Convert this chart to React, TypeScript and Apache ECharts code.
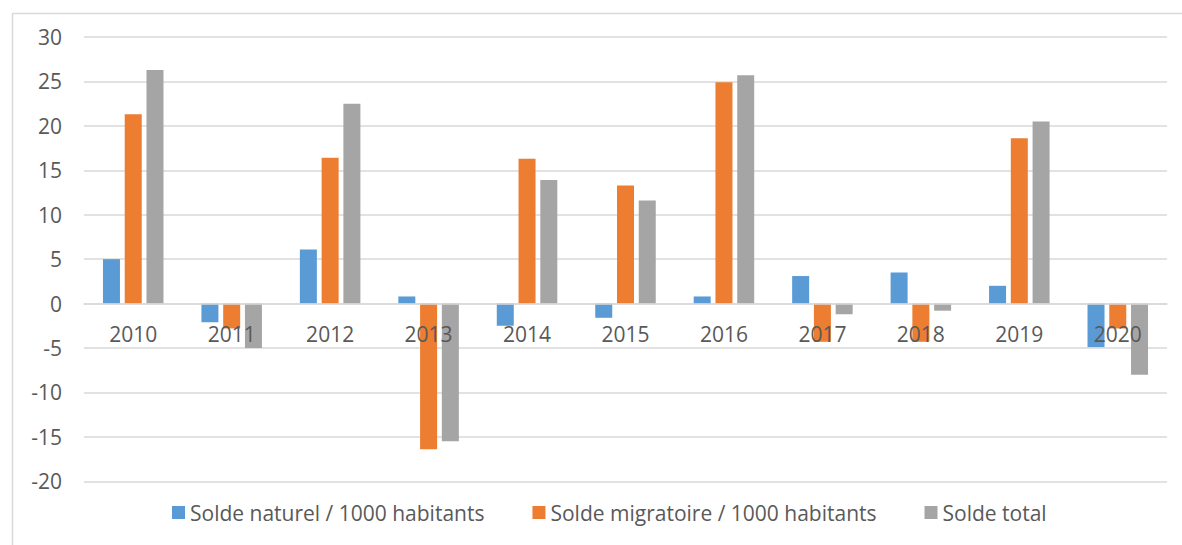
import React, { useEffect, useRef } from "react";
import * as echarts from "echarts";

const years = ["2010", "2011", "2012", "2013", "2014", "2015", "2016", "2017", "2018", "2019", "2020"];
const soldeNaturel = [5.0, -2.1, 6.1, 0.8, -2.5, -1.6, 0.8, 3.1, 3.5, 2.0, -4.9];
const soldeMigratoire = [21.3, -2.8, 16.4, -16.4, 16.3, 13.3, 24.9, -4.3, -4.3, 18.6, -2.8];
const soldeTotal = [26.3, -5.0, 22.5, -15.5, 13.9, 11.6, 25.7, -1.2, -0.8, 20.5, -8.0];
const seriesNames = ["Solde naturel / 1000 habitants", "Solde migratoire / 1000 habitants", "Solde total"];
const colors = ["#5B9BD5", "#ED7D31", "#A5A5A5"];
const yMin = -20;
const yMax = 30;

const FONT = "'Open Sans', sans-serif";

export default function App() {
  const ref = useRef<HTMLDivElement>(null);
  useEffect(() => {
    if (!ref.current) return;
    const chart = echarts.init(ref.current, undefined, { renderer: "svg" });
    const data = [soldeNaturel, soldeMigratoire, soldeTotal];
    const gridTop = 37;
    const gridBottom = 63.7;
    const plotH = 545 - gridTop - gridBottom;
    const zeroOffset = -(plotH * (0 - yMin)) / (yMax - yMin);
    chart.setOption({
      animation: false,
      backgroundColor: "#ffffff",
      color: colors,
      textStyle: { fontFamily: FONT },
      graphic: [
        {
          type: "rect",
          left: 10,
          top: 11,
          shape: { width: 1300, height: 700 },
          style: { fill: "none", stroke: "#d9d9d9", lineWidth: 1.5 },
          silent: true,
          z: -1,
        },
      ],
      grid: { left: 84, right: 15, top: gridTop, bottom: gridBottom, containLabel: false },
      legend: {
        left: 167,
        top: 497,
        icon: "rect",
        itemWidth: 13,
        itemHeight: 13,
        itemGap: 48,
        textStyle: { fontSize: 21, color: "#595959", fontFamily: FONT },
        data: seriesNames,
      },
      xAxis: {
        type: "category",
        data: years,
        z: 10,
        offset: zeroOffset,
        axisLine: { onZero: false, lineStyle: { color: "#d9d9d9", width: 1.5 } },
        axisTick: { show: false },
        axisLabel: { fontSize: 21, color: "#595959", fontFamily: FONT, margin: 20 },
        splitLine: { show: false },
      },
      yAxis: {
        type: "value",
        min: yMin,
        max: yMax,
        interval: 5,
        axisLine: { show: false },
        axisTick: { show: false },
        axisLabel: { fontSize: 21, color: "#595959", fontFamily: FONT, margin: 22 },
        splitLine: { lineStyle: { color: "#d9d9d9", width: 1.5 } },
      },
      series: seriesNames.map((name, i) => ({
        name,
        type: "bar",
        data: data[i],
        barWidth: 17,
        barGap: "28%",
        itemStyle: { color: colors[i] },
      })),
    });
    return () => chart.dispose();
  }, []);
  return (
    <div
      ref={ref}
      style={{ position: "fixed", left: 0, top: 0, width: 1182, height: 545 }}
    />
  );
}
